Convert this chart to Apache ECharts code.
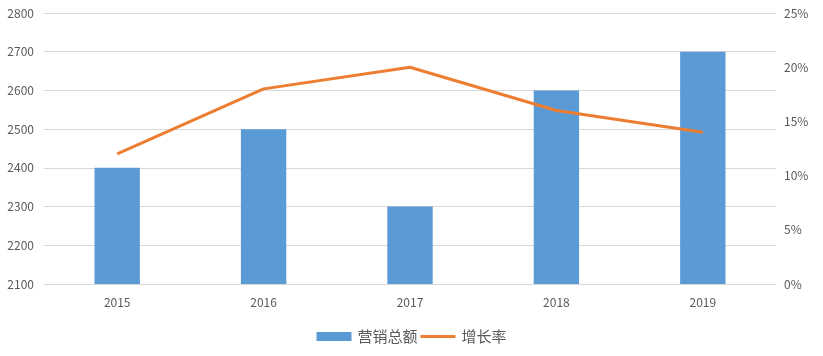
<!DOCTYPE html>
<html><head><meta charset="utf-8">
<script src="https://cdn.jsdelivr.net/npm/echarts@6/dist/echarts.min.js"></script>
<style>html,body{margin:0;padding:0;background:#fff}#c{width:823px;height:356px}</style>
</head><body><div id="c"></div>
<script>
const categories = ['2015','2016','2017','2018','2019'];
const salesTotal = [2400, 2500, 2300, 2600, 2700];
const growthRate = [12, 18, 20, 16, 14];
const seriesNames = ['营销总额', '增长率'];

const chart = echarts.init(document.getElementById('c'));
const font = '"Noto Sans CJK SC", "Open Sans", sans-serif';
chart.setOption({
  animation: false,
  textStyle: { fontFamily: font },
  grid: { left: 44, right: 47, top: 13, bottom: 72 },
  legend: {
    bottom: 7, left: 'center', itemGap: 3, itemWidth: 35, itemHeight: 9,
    textStyle: { color: '#595959', fontSize: 15, fontFamily: font, padding: [0, 0, 0, 1] },
    data: [
      { name: seriesNames[0], icon: 'rect' },
      { name: seriesNames[1], icon: 'path://M0,0 L0.01,0 L0,0.01 Z M0,3 L35,3 L35,6 L0,6 Z M0,9 L0.01,9 L0,8.99 Z' }
    ]
  },
  xAxis: {
    type: 'category', data: categories,
    axisLine: { lineStyle: { color: '#d9d9d9' } },
    axisTick: { show: false },
    axisLabel: { color: '#595959', fontSize: 12, margin: 12 }
  },
  yAxis: [
    {
      type: 'value', min: 2100, max: 2800, interval: 100,
      axisLine: { show: false }, axisTick: { show: false },
      splitLine: { lineStyle: { color: '#d9d9d9' } },
      axisLabel: { color: '#595959', fontSize: 12, margin: 10, formatter: v => String(v) }
    },
    {
      type: 'value', min: 0, max: 25, interval: 5,
      axisLine: { show: false }, axisTick: { show: false },
      splitLine: { show: false },
      axisLabel: { color: '#595959', fontSize: 12, margin: 8, formatter: '{value}%' }
    }
  ],
  series: [
    {
      name: seriesNames[0], type: 'bar', data: salesTotal, barWidth: '31%',
      itemStyle: { color: '#5B9BD5' }
    },
    {
      name: seriesNames[1], type: 'line', yAxisIndex: 1, data: growthRate,
      symbol: 'none', lineStyle: { color: '#ED7D31', width: 3 },
      itemStyle: { color: '#ED7D31' }
    }
  ]
});
</script></body></html>
